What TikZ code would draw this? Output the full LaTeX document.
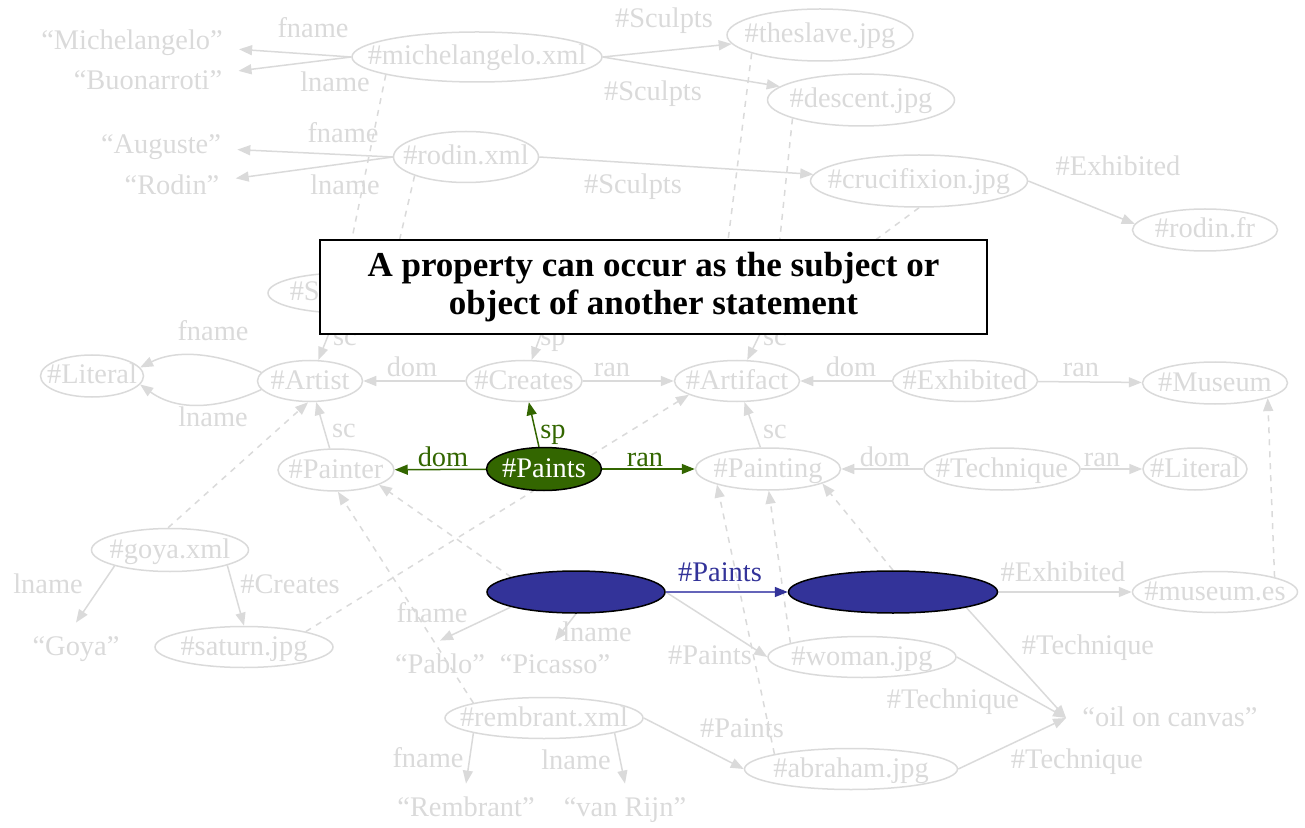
\documentclass[tikz,border=0pt]{standalone}
\usepackage{fontspec}
\setmainfont{Liberation Serif}
\usetikzlibrary{shapes.geometric,arrows.meta}

\definecolor{faint}{RGB}{218,218,218}
\definecolor{leaf}{RGB}{51,102,0}
\definecolor{ink}{RGB}{51,51,153}
\definecolor{inklight}{RGB}{100,100,185}

% keep the label from widening its ellipse
\newcommand\ztext[1]{\makebox[0pt]{#1}}

\pgfdeclarelayer{wires}
\pgfdeclarelayer{cover}
\pgfsetlayers{wires,main,cover}

\tikzset{
  sz/.style 2 args={minimum width=#1pt, minimum height=#2pt},
  ellbase/.style={ellipse, inner sep=0pt, line width=0.75pt, text height=11pt, text depth=3pt},
  faintnode/.style={ellbase, draw=faint, text=faint},
  paintsnode/.style={ellbase, draw=black, fill=leaf, text=white},
  bluenode/.style={ellbase, draw=black, fill=ink},
  lit/.style={text=faint, inner xsep=8pt, inner ysep=5pt, text height=11pt, text depth=3pt},
  lbl/.style={text=faint, inner sep=0pt, text height=11pt, text depth=3pt},
  glbl/.style={lbl, text=leaf},
  blbl/.style={lbl, text=ink},
  wire/.style={draw=faint, line width=0.75pt, -{Triangle[length=6.5pt,width=5pt]}},
  dwire/.style={wire, dash pattern=on 3pt off 3pt},
  gwire/.style={draw=leaf, line width=0.75pt, -{Triangle[length=6.5pt,width=5pt]}},
  bwire/.style={draw=inklight, line width=0.75pt, -{Triangle[length=6.5pt,width=5pt,color=ink]}},
}

\begin{document}
\begin{tikzpicture}[x=0.5pt, y=-0.5pt, every node/.append style={font=\fontsize{14.2}{17}\selectfont}]
\useasboundingbox (0,0) rectangle (1305,828);

% ---- resource and class nodes
\node[faintnode, sz={125}{25}]     (mich)      at (477,57)   {\ztext{\#michelangelo.xml}};
\node[faintnode, sz={93}{26}]      (slave)     at (820,35)   {\ztext{\#theslave.jpg}};
\node[faintnode, sz={93.5}{26}]    (descent)   at (861,100)  {\ztext{\#descent.jpg}};
\node[faintnode, sz={72.5}{25.5}]  (rodin)     at (466,157)  {\ztext{\#rodin.xml}};
\node[faintnode, sz={108.5}{26}]   (cruc)      at (919,181)  {\ztext{\#crucifixion.jpg}};
\node[faintnode, sz={72.5}{21}]    (rodinfr)   at (1205,230) {\ztext{\#rodin.fr}};
\node[faintnode, sz={77}{20}]      (sculptor)  at (345,293)  {\ztext{\#Sculptor}};
% these two sit wholly under the caption box
\node[faintnode, sz={75}{20}]      (sculpts)   at (556,293)  {};
\node[faintnode, sz={82.5}{20}]    (sculpture) at (780,293)  {};
\node[faintnode, sz={51.5}{21}]    (litA)      at (92,376)   {\ztext{\#Literal}};
\node[faintnode, sz={52.5}{20.5}]  (artist)    at (310,381)  {\ztext{\#Artist}};
\node[faintnode, sz={58}{20.5}]    (creates)   at (524,381)  {\ztext{\#Creates}};
\node[faintnode, sz={62.5}{20.5}]  (artifact)  at (737,381)  {\ztext{\#Artifact}};
\node[faintnode, sz={72.5}{20.5}]  (exhibited) at (965,381)  {\ztext{\#Exhibited}};
\node[faintnode, sz={72.5}{21}]    (museum)    at (1215,383) {\ztext{\#Museum}};
\node[faintnode, sz={58}{21}]      (painter)   at (336,470)  {\ztext{\#Painter}};
\node[paintsnode, sz={57.5}{21.5}] (paints)    at (544,469)  {\ztext{\#Paints}};
\node[faintnode, sz={72.5}{21}]    (painting)  at (768,469)  {\ztext{\#Painting}};
\node[faintnode, sz={78}{21}]      (technique) at (1002,469) {\ztext{\#Technique}};
\node[faintnode, sz={52}{21}]      (litB)      at (1195,469) {\ztext{\#Literal}};
\node[faintnode, sz={78.5}{21.5}]  (goya)      at (170,550)  {\ztext{\#goya.xml}};
\node[faintnode, sz={89}{20.5}]    (saturn)    at (244,647)  {\ztext{\#saturn.jpg}};
\node[bluenode, sz={89}{21}]       (subj)      at (576,592)  {};
\node[bluenode, sz={104.5}{21}]    (obj)       at (893,592)  {};
\node[faintnode, sz={82.5}{20.5}]  (museumes)  at (1215,592) {\ztext{\#museum.es}};
\node[faintnode, sz={94}{20.5}]    (woman)     at (862,657)  {\ztext{\#woman.jpg}};
\node[faintnode, sz={99}{20.5}]    (rembrant)  at (544,718)  {\ztext{\#rembrant.xml}};
\node[faintnode, sz={106.5}{20.5}] (abraham)   at (851,769)  {\ztext{\#abraham.jpg}};

% ---- literal values
\node[lit] (tMich)     at (132,42)   {``Michelangelo''};
\node[lit] (tBuon)     at (148,82)   {``Buonarroti''};
\node[lit] (tAug)      at (161,146)  {``Auguste''};
\node[lit] (tRodin)    at (172,187)  {``Rodin''};
\node[lit] (tGoya)     at (76,647)   {``Goya''};
\node[lit] (tPablo)    at (440,665)  {``Pablo''};
\node[lit] (tPicasso)  at (555,665)  {``Picasso''};
\node[lit] (tRembrant) at (466,808)  {``Rembrant''};
\node[lit] (tRijn)     at (625,808)  {``van Rijn''};
\node[lit] (oil)       at (1170,718) {``oil on canvas''};

% ---- property labels
\node[lbl] (l1)  at (313,30)   {fname};
\node[lbl] (l2)  at (335,84)   {lname};
\node[lbl] (l3)  at (664,20)   {\#Sculpts};
\node[lbl] (l4)  at (653,93)   {\#Sculpts};
\node[lbl] (l5)  at (343,135)  {fname};
\node[lbl] (l6)  at (345,187)  {lname};
\node[lbl] (l7)  at (633,186)  {\#Sculpts};
\node[lbl] (l8)  at (1118,168) {\#Exhibited};
\node[lbl] (l9)  at (345,337)  {sc};
\node[lbl] (l10) at (553,337)  {sp};
\node[lbl] (l11) at (775,337)  {sc};
\node[lbl] (l12) at (213,333)  {fname};
\node[lbl] (l13) at (213,418)  {lname};
\node[lbl] (l14) at (412,368)  {dom};
\node[lbl] (l15) at (612,368)  {ran};
\node[lbl] (l16) at (851,368)  {dom};
\node[lbl] (l17) at (1081,368) {ran};
\node[lbl] (l18) at (344,429)  {sc};
\node[glbl] (l19) at (443,458) {dom};
\node[glbl] (l20) at (553,430) {sp};
\node[glbl] (l21) at (645,458) {ran};
\node[lbl] (l22) at (775,430)  {sc};
\node[lbl] (l23) at (885,458)  {dom};
\node[lbl] (l24) at (1102,458) {ran};
\node[lbl] (l25) at (48,585)   {lname};
\node[lbl] (l26) at (290,585)  {\#Creates};
\node[blbl] (l27) at (720,573) {\#Paints};
\node[lbl] (l28) at (1063,573) {\#Exhibited};
\node[lbl] (l29) at (432,614)  {fname};
\node[lbl] (l30) at (597,633)  {lname};
\node[lbl] (l31) at (710,656)  {\#Paints};
\node[lbl] (l32) at (1088,646) {\#Technique};
\node[lbl] (l33) at (953,700)  {\#Technique};
\node[lbl] (l34) at (742,729)  {\#Paints};
\node[lbl] (l35) at (428,759)  {fname};
\node[lbl] (l36) at (576,761)  {lname};
\node[lbl] (l37) at (1077,760) {\#Technique};

% ---- connectors
\begin{pgfonlayer}{wires}
\draw[wire] (mich.west) -- (tMich);
\draw[wire] (mich.west) -- (tBuon);
\draw[wire] (mich.east) -- (slave);
\draw[wire] (mich.east) -- (descent);
\draw[wire] (rodin.west) -- (tAug);
\draw[wire] (rodin.west) -- (tRodin);
\draw[wire] (rodin.east) -- (cruc);
\draw[wire] (cruc.east) -- (rodinfr.175);
\draw[dwire] (mich.-169) -- (sculptor.north);
\draw[dwire] (rodin.-160) -- (sculptor.20);
\draw[dwire] (slave.-165) -- (sculpture.165);
\draw[dwire] (descent.-165) -- (sculpture.100);
\draw[dwire] (cruc.south) -- (sculpture.20);
\draw[wire] (sculptor) -- (artist);
\draw[wire] (sculpts) -- (creates);
\draw[wire] (sculpture) -- (artifact);
\draw[wire] (artist.170) .. controls (235,360) and (185,345) .. (litA.10);
\draw[wire] (artist.-170) .. controls (235,402) and (185,417) .. (litA.-10);
\draw[wire] (creates) -- (artist);
\draw[wire] (creates) -- (artifact);
\draw[wire] (exhibited) -- (artifact);
\draw[wire] (exhibited) -- (museum);
\draw[wire] (painter) -- (artist);
\draw[wire] (painting) -- (artifact);
\draw[wire] (technique) -- (painting);
\draw[wire] (technique) -- (litB);
\draw[dwire] (goya.95) -- (artist.-95);
\draw[wire] (goya.-164) -- (tGoya.north);
\draw[wire] (goya.-15) -- (saturn.north);
\draw[dwire] (saturn.14) -- (artifact.-164);
\draw[dwire] (museumes.14) -- (museum.-16);
\draw[wire] (obj) -- (museumes);
\draw[dwire] (subj.167) -- (painter.-19);
\draw[dwire] (obj.north) -- (painting.-15);
\draw[wire] (subj.-167) -- (tPablo.north);
\draw[wire] (subj.south) -- (tPicasso.north);
\draw[wire] (subj.east) -- (woman.west);
\draw[dwire] (woman.169) -- (painting.-88);
\draw[wire] (obj.-12) -- (oil.west);
\draw[wire] (woman.east) -- (oil.west);
\draw[dwire] (rembrant.168) -- (painter.-85);
\draw[wire] (rembrant.-168) -- (tRembrant.north);
\draw[wire] (rembrant.-12) -- (tRijn.north);
\draw[wire] (rembrant.east) -- (abraham.west);
\draw[dwire] (abraham.169) -- (painting.-163);
\draw[wire] (abraham.east) -- (oil.west);
\draw[gwire] (paints) -- (painter);
\draw[gwire] (paints) -- (creates);
\draw[gwire] (paints) -- (painting);
\draw[bwire] (subj) -- (obj);
\end{pgfonlayer}

% ---- caption box
\begin{pgfonlayer}{cover}
\node[draw=black, line width=1pt, fill=white, inner sep=0pt,
      minimum width=333.5pt, minimum height=47pt, align=center,
      font=\fontsize{17.5}{19}\selectfont\bfseries] (caption) at (653.5,287)
  {A property can occur as the subject or\\object of another statement};
\end{pgfonlayer}
\end{tikzpicture}
\end{document}
